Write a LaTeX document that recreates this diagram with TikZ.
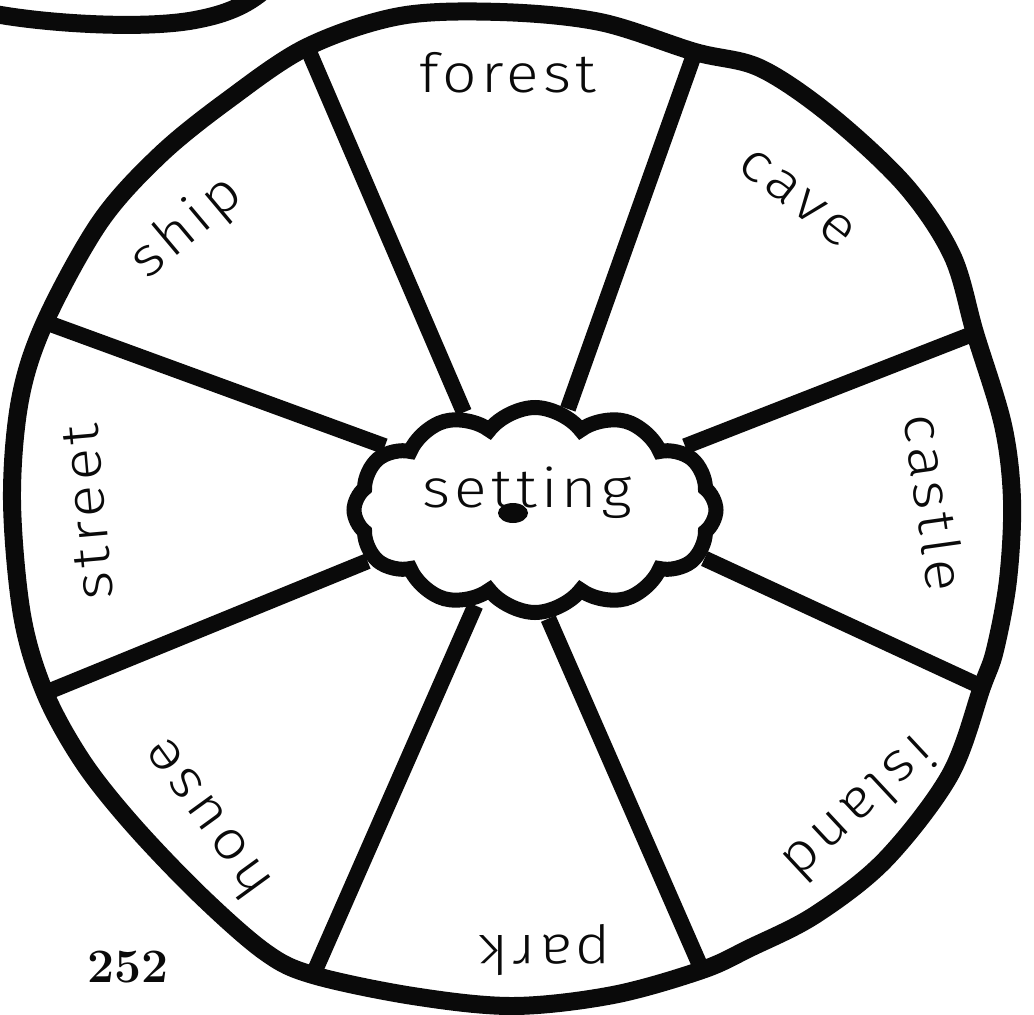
\documentclass[tikz,border=0pt]{standalone}
\usepackage{fontspec}
\usepackage{tikz}
\usetikzlibrary{shapes.symbols}
\newfontfamily\handfont{Fira Sans Light}[FakeStretch=1.12, LetterSpace=8]
\definecolor{myink}{RGB}{10,10,10}
\tikzset{
  rim/.style={draw=myink, line width=18pt, line join=round},
  spoke/.style={draw=myink, line width=16pt},
  hubcloud/.style={cloud, draw=myink, fill=white, line width=15pt,
    cloud puffs=12, cloud puff arc=105, aspect=1.9,
    minimum width=362pt, minimum height=205pt, inner sep=0pt},
  word/.style={font=\handfont\fontsize{54}{64}\selectfont, text=myink, inner sep=0pt}
}

\begin{document}
\begin{tikzpicture}[x=1pt, y=-1pt]
  \useasboundingbox (0,0) rectangle (1034,1015);

  % where the spokes meet the rim
  \coordinate (j1) at (307,47);
  \coordinate (j2) at (695,52);
  \coordinate (j3) at (975,333);
  \coordinate (j4) at (982,687);
  \coordinate (j5) at (702,970);
  \coordinate (j6) at (313,975);
  \coordinate (j7) at (45,693);
  \coordinate (j8) at (45,322);

  % centre
  \node[hubcloud] (hub) at (535,510) {};
  \node[word] (settinglbl) at (527,493) {setting};
  \fill[myink] (513,513) ellipse [x radius=15, y radius=10];

  % spokes
  \draw[spoke] (j1) -- (hub.126);
  \draw[spoke] (j2) -- (hub.72);
  \draw[spoke] (j3) -- (hub.23);
  \draw[spoke] (j4) -- (hub.-16);
  \draw[spoke] (j5) -- (hub.-83);
  \draw[spoke] (j6) -- (hub.-122);
  \draw[spoke] (j7) -- (hub.-163);
  \draw[spoke] (j8) -- (hub.157);

  % rim
  \draw[rim] plot[smooth cycle, tension=0.55] coordinates {
    (j1) (400,16) (500,12) (600,22)
    (j2) (760,68) (830,115) (905,185) (952,255)
    (j3) (1003,425) (1012,500) (1008,580) (995,650)
    (j4) (950,775) (885,860) (815,915) (750,948)
    (j5) (613,995) (513,1006) (413,996)
    (j6) (265,952) (200,895) (133,825) (83,762)
    (j7) (22,615) (12,500) (20,400)
    (j8) (100,222) (160,155) (228,100)};

  % piece of the shape above
  \draw[rim] (-5,14) .. controls (50,24) and (150,30) .. (200,19)
    .. controls (225,14) and (245,6) .. (262,-8);

  % words round the wheel
  \node[word] (forestlbl) at (508,73) {forest};
  \node[word, rotate=-38] (cavelbl) at (797,198) {cave};
  \node[word, rotate=-82] (castlelbl) at (935,502) {castle};
  \node[word, rotate=-137] (islandlbl) at (860,810) {island};
  \node[word, rotate=180] (parklbl) at (545,950) {park};
  \node[word, rotate=126] (houselbl) at (205,820) {house};
  \node[word, rotate=95] (streetlbl) at (88,512) {street};
  \node[word, rotate=40] (shiplbl) at (187,228) {ship};

  \node[font=\bfseries\fontsize{48}{56}\selectfont, text=myink] (pagenum) at (128,967) {252};
\end{tikzpicture}
\end{document}
